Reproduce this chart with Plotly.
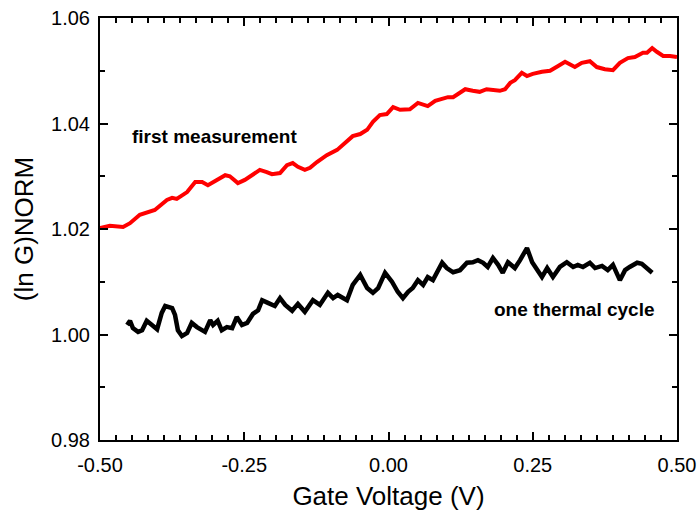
import plotly.graph_objects as go

# first measurement (red)
red_x = [-0.500, -0.483, -0.460, -0.448, -0.431, -0.417, -0.405, -0.384, -0.375, -0.367,
         -0.349, -0.335, -0.323, -0.313, -0.301, -0.283, -0.275, -0.261, -0.249, -0.237,
         -0.223, -0.211, -0.202, -0.188, -0.176, -0.166, -0.157, -0.145, -0.136, -0.124,
         -0.107, -0.089, -0.072, -0.062, -0.049, -0.037, -0.027, -0.015, -0.003, 0.008,
         0.020, 0.037, 0.051, 0.068, 0.081, 0.094, 0.103, 0.112, 0.133, 0.146,
         0.158, 0.170, 0.181, 0.193, 0.202, 0.211, 0.219, 0.231, 0.240, 0.250,
         0.266, 0.280, 0.294, 0.306, 0.323, 0.335, 0.349, 0.361, 0.375, 0.389,
         0.401, 0.415, 0.427, 0.441, 0.448, 0.457, 0.465, 0.476, 0.488, 0.500]
red_y = [1.0202, 1.0206, 1.0204, 1.0211, 1.0227, 1.0232, 1.0236, 1.0255, 1.0259, 1.0257,
         1.0270, 1.0289, 1.0289, 1.0283, 1.0291, 1.0302, 1.0300, 1.0287, 1.0293, 1.0302,
         1.0312, 1.0308, 1.0304, 1.0306, 1.0321, 1.0325, 1.0318, 1.0312, 1.0316, 1.0327,
         1.0340, 1.0350, 1.0365, 1.0376, 1.0380, 1.0388, 1.0403, 1.0416, 1.0418, 1.0431,
         1.0426, 1.0427, 1.0439, 1.0433, 1.0443, 1.0446, 1.0450, 1.0450, 1.0465, 1.0462,
         1.0460, 1.0465, 1.0463, 1.0462, 1.0465, 1.0477, 1.0482, 1.0496, 1.0490, 1.0494,
         1.0498, 1.0500, 1.0509, 1.0517, 1.0507, 1.0515, 1.0518, 1.0507, 1.0503, 1.0501,
         1.0515, 1.0524, 1.0526, 1.0534, 1.0534, 1.0543, 1.0536, 1.0528, 1.0528, 1.0526]

# one thermal cycle (black)
blk_x = [-0.453, -0.448, -0.443, -0.434, -0.427, -0.419, -0.410, -0.401, -0.393, -0.387,
         -0.375, -0.370, -0.365, -0.358, -0.349, -0.341, -0.332, -0.318, -0.309, -0.304,
         -0.296, -0.289, -0.280, -0.271, -0.263, -0.254, -0.245, -0.235, -0.226, -0.219,
         -0.209, -0.197, -0.188, -0.179, -0.167, -0.157, -0.145, -0.131, -0.119, -0.105,
         -0.096, -0.088, -0.072, -0.062, -0.049, -0.037, -0.027, -0.018, -0.006, 0.006,
         0.016, 0.025, 0.034, 0.042, 0.051, 0.060, 0.068, 0.077, 0.093, 0.101,
         0.112, 0.124, 0.136, 0.146, 0.155, 0.164, 0.172, 0.181, 0.190, 0.198,
         0.207, 0.219, 0.228, 0.240, 0.249, 0.257, 0.266, 0.275, 0.285, 0.297,
         0.309, 0.320, 0.328, 0.337, 0.349, 0.358, 0.370, 0.380, 0.389, 0.401,
         0.410, 0.418, 0.431, 0.439, 0.448, 0.457]
blk_y = [1.0018, 1.0026, 1.0012, 1.0005, 1.0008, 1.0026, 1.0018, 1.0010, 1.0041, 1.0054,
         1.0050, 1.0037, 1.0008, 0.9997, 1.0003, 1.0022, 1.0014, 1.0005, 1.0027, 1.0018,
         1.0026, 1.0008, 1.0014, 1.0012, 1.0033, 1.0018, 1.0022, 1.0039, 1.0046, 1.0065,
         1.0060, 1.0054, 1.0069, 1.0056, 1.0045, 1.0058, 1.0043, 1.0065, 1.0056, 1.0079,
         1.0069, 1.0075, 1.0065, 1.0094, 1.0113, 1.0088, 1.0079, 1.0088, 1.0117, 1.0100,
         1.0081, 1.0069, 1.0081, 1.0088, 1.0103, 1.0094, 1.0109, 1.0103, 1.0136, 1.0126,
         1.0118, 1.0122, 1.0136, 1.0137, 1.0141, 1.0136, 1.0128, 1.0145, 1.0132, 1.0117,
         1.0137, 1.0126, 1.0141, 1.0164, 1.0137, 1.0122, 1.0109, 1.0126, 1.0109, 1.0128,
         1.0137, 1.0128, 1.0132, 1.0128, 1.0136, 1.0126, 1.0130, 1.0122, 1.0132, 1.0103,
         1.0122, 1.0128, 1.0136, 1.0134, 1.0126, 1.0117]

x_ticks = [-0.50, -0.25, 0.00, 0.25, 0.50]
x_tick_labels = ["-0.50", "-0.25", "0.00", "0.25", "0.50"]
y_ticks = [0.98, 1.00, 1.02, 1.04, 1.06]
y_tick_labels = ["0.98", "1.00", "1.02", "1.04", "1.06"]

FONT = "Liberation Sans, Arial, sans-serif"

fig = go.Figure()
fig.add_trace(go.Scatter(x=red_x, y=red_y, mode="lines",
                         line=dict(color="#ff0000", width=4), showlegend=False))
fig.add_trace(go.Scatter(x=blk_x, y=blk_y, mode="lines",
                         line=dict(color="#000000", width=4.5), showlegend=False))

fig.add_annotation(x=-0.448, y=1.0376, text="<b>first measurement</b>", showarrow=False,
                   xanchor="left", yanchor="middle", font=dict(family=FONT, size=19, color="black"))
fig.add_annotation(x=0.465, y=1.0048, text="<b>one thermal cycle</b>", showarrow=False,
                   xanchor="right", yanchor="middle", font=dict(family=FONT, size=19, color="black"))

axis_common = dict(showgrid=False, zeroline=False, showline=True, linecolor="black", linewidth=2,
                   ticks="inside", tickcolor="black", tickwidth=1.5, ticklen=8, mirror="ticks",
                   tickfont=dict(family=FONT, size=20, color="black"))

fig.update_xaxes(range=[-0.5, 0.5], tickmode="array", tickvals=x_ticks, ticktext=x_tick_labels,
                 minor=dict(ticks="inside", tickmode="linear", tick0=-0.5, dtick=0.25 / 9,
                            ticklen=5, tickcolor="black", tickwidth=1.5),
                 title=dict(text="Gate Voltage (V)", font=dict(family=FONT, size=26, color="black"),
                            standoff=12),
                 ticklabelstandoff=6,
                 **axis_common)
fig.update_yaxes(range=[0.98, 1.06], tickmode="array", tickvals=y_ticks, ticktext=y_tick_labels,
                 minor=dict(ticks="inside", tickmode="linear", tick0=0.98, dtick=0.01,
                            ticklen=5, tickcolor="black", tickwidth=1.5),
                 title=dict(text="(ln G)NORM", font=dict(family=FONT, size=26, color="black"),
                            standoff=10),
                 ticklabelstandoff=4,
                 **axis_common)

fig.update_layout(width=698, height=516, margin=dict(l=100, r=21, t=18, b=76, autoexpand=False),
                  paper_bgcolor="white", plot_bgcolor="white")

fig.write_html("out.html")
